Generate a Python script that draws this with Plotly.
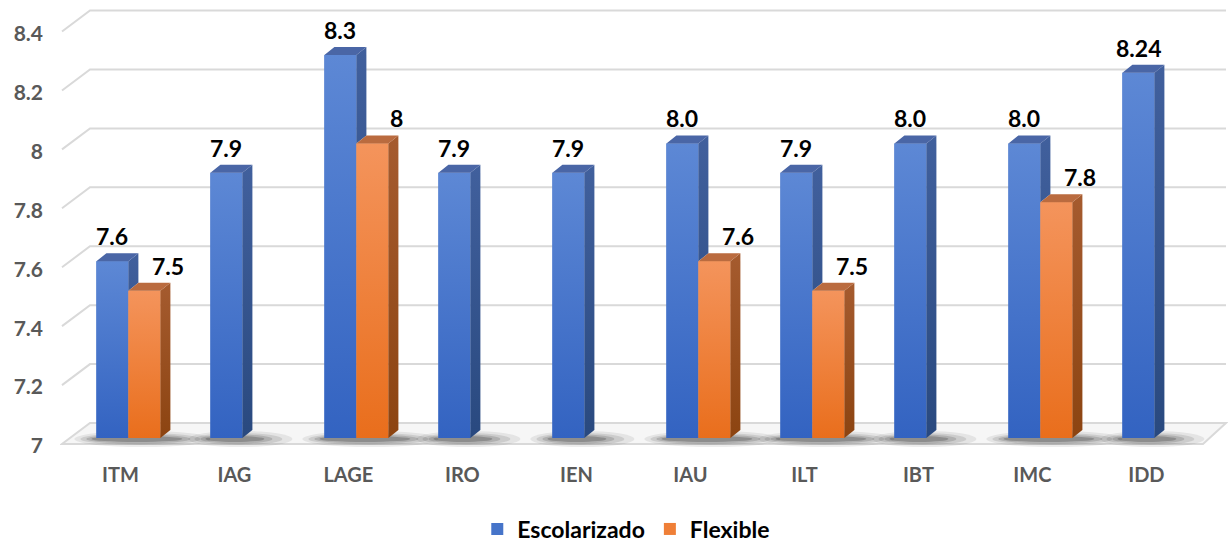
import plotly.graph_objects as go

# ---------------- data ----------------
categories = ["ITM", "IAG", "LAGE", "IRO", "IEN", "IAU", "ILT", "IBT", "IMC", "IDD"]
escolarizado = [7.6, 7.9, 8.3, 7.9, 7.9, 8.0, 7.9, 8.0, 8.0, 8.24]
flexible = [7.5, None, 8.0, None, None, 7.6, 7.5, None, 7.8, None]
escolarizado_labels = ["7.6", "7.9", "8.3", "7.9", "7.9", "8.0", "7.9", "8.0", "8.0", "8.24"]
flexible_labels = ["7.5", "", "8", "", "", "7.6", "7.5", "", "7.8", ""]
series_names = ["Escolarizado", "Flexible"]
y_tickvals = [7, 7.2, 7.4, 7.6, 7.8, 8, 8.2, 8.4]
y_ticktext = ["7", "7.2", "7.4", "7.6", "7.8", "8", "8.2", "8.4"]
BASE = 7

# ---------------- geometry (pixels -> data units) ----------------
W, H = 1228, 547
ML, MR, MT, MB = 60, 0, 3, 80
PX_CAT = 114.0
PX_UNIT = 294.6
BASE_PX = 438
x0 = -0.6
x1 = x0 + (W - ML - MR) / PX_CAT
y0 = BASE - (H - MB - BASE_PX) / PX_UNIT
y1 = y0 + (H - MB - MT) / PX_UNIT

BW = 32 / PX_CAT          # bar width (category units)
DX = 10 / PX_CAT          # bar depth x
DY = 8 / PX_UNIT          # bar depth y
FY = -6 / PX_UNIT         # front plane offset
BY = 15 / PX_UNIT         # back wall offset
WALL_FRONT_X = x0 + 2 / PX_CAT
WALL_BACK_X = WALL_FRONT_X + 28 / PX_CAT
WALL_RIGHT_X = x1 - 2 / PX_CAT
FLOOR_FRONT_RIGHT = (1203 - (ML + 0.6 * PX_CAT)) / PX_CAT

BLUE = "#4674C9"
BLUE_FRONT = ("#3363C1", "#5D88D5")      # bottom, top
BLUE_SIDE = ("#29497F", "#41609D")
BLUE_TOP = "#4A66A6"
ORANGE = "#EF7F37"
ORANGE_FRONT = ("#E96E1C", "#F4945C")
ORANGE_SIDE = ("#8C4411", "#A55B2F")
ORANGE_TOP = "#BA6B3F"
FONT = "Lato"

idx = list(range(len(categories)))
fig = go.Figure()

# front faces (real bars)
fig.add_trace(go.Bar(x=idx, y=[v - BASE for v in escolarizado], base=BASE,
                     name=series_names[0], marker=dict(color=BLUE, line=dict(width=0)),
                     hoverinfo="skip"))
fig.add_trace(go.Bar(x=idx, y=[(v - BASE) if v is not None else None for v in flexible], base=BASE,
                     name=series_names[1], marker=dict(color=ORANGE, line=dict(width=0)),
                     hoverinfo="skip"))


def grad_poly(xs, ys, cols, lo, hi):
    return go.Scatter(x=xs, y=ys, mode="lines", fill="toself",
                      fillgradient=dict(type="vertical", start=lo, stop=hi,
                                        colorscale=[[0, cols[0]], [1, cols[1]]]),
                      line=dict(width=0, color=cols[1]), showlegend=False, hoverinfo="skip")


def flat_poly(xs, ys, color):
    return go.Scatter(x=xs, y=ys, mode="lines", fill="toself", fillcolor=color,
                      line=dict(width=0, color=color), showlegend=False, hoverinfo="skip")


def box(xl, xr, yb, yt):
    return [xl, xr, xr, xl, xl], [yb, yb, yt, yt, yb]


# gradient shading over the front faces
for i, v in enumerate(escolarizado):
    bx, by = box(i - BW, i, BASE, v)
    fig.add_trace(grad_poly(bx, by, BLUE_FRONT, BASE, v))
for i, o in enumerate(flexible):
    if o is None:
        continue
    bx, by = box(i, i + BW, BASE, o)
    fig.add_trace(grad_poly(bx, by, ORANGE_FRONT, BASE, o))

# side faces
for i, v in enumerate(escolarizado):
    xr = i
    o = flexible[i]
    bottom = BASE if o is None else o
    if o is None or v > o:
        fig.add_trace(grad_poly([xr, xr, xr + DX, xr + DX, xr],
                                [bottom, v, v + DY, bottom + DY, bottom],
                                BLUE_SIDE, BASE, v + DY))
for i, o in enumerate(flexible):
    if o is None:
        continue
    xr = i + BW
    fig.add_trace(grad_poly([xr, xr, xr + DX, xr + DX, xr],
                            [BASE, o, o + DY, BASE + DY, BASE],
                            ORANGE_SIDE, BASE, o + DY))

# top faces
bt_x, bt_y, ot_x, ot_y = [], [], [], []
for i, v in enumerate(escolarizado):
    xl, xr = i - BW, i
    bt_x += [xl, xr, xr + DX, xl + DX, xl, None]
    bt_y += [v, v, v + DY, v + DY, v, None]
for i, o in enumerate(flexible):
    if o is None:
        continue
    xl, xr = i, i + BW
    ot_x += [xl, xr, xr + DX, xl + DX, xl, None]
    ot_y += [o, o, o + DY, o + DY, o, None]
fig.add_trace(flat_poly(bt_x, bt_y, BLUE_TOP))
fig.add_trace(flat_poly(ot_x, ot_y, ORANGE_TOP))

# ---------------- background shapes: floor, wall gridlines, shadows ----------------
shapes = []
fpath = (f"M{WALL_FRONT_X},{BASE + FY} L{FLOOR_FRONT_RIGHT},{BASE + FY} "
         f"L{WALL_RIGHT_X},{BASE + BY} L{WALL_BACK_X},{BASE + BY} Z")
shapes.append(dict(type="path", path=fpath, xref="x", yref="y", layer="below",
                   fillcolor="#F6F6F6", line=dict(color="#D9D9D9", width=2)))
for t in y_tickvals[1:]:
    p = f"M{WALL_FRONT_X},{t + FY} L{WALL_BACK_X},{t + BY} L{WALL_RIGHT_X},{t + BY}"
    shapes.append(dict(type="path", path=p, xref="x", yref="y", layer="below",
                       line=dict(color="#D9D9D9", width=2)))
# soft shadows (stacked translucent ellipses)
for i, v in enumerate(escolarizado):
    left = i - BW
    right = (i + BW if flexible[i] is not None else i) + DX
    for gl, gr, hh, a in [(22, 40, 16, 0.08), (16, 30, 12, 0.12), (10, 20, 9, 0.16), (5, 12, 6, 0.24)]:
        shapes.append(dict(type="circle", xref="x", yref="y", layer="below",
                           x0=left - gl / PX_CAT, x1=right + gr / PX_CAT,
                           y0=BASE - (hh / 2 + 1) / PX_UNIT, y1=BASE + (hh / 2 - 1) / PX_UNIT,
                           fillcolor=f"rgba(30,30,30,{a})", line=dict(width=0)))

# ---------------- data labels ----------------
annotations = []
lab_font = dict(family=FONT, size=23, color="black", weight="bold")
for i, (v, t) in enumerate(zip(escolarizado, escolarizado_labels)):
    annotations.append(dict(x=i - BW / 2, y=v, text=t, showarrow=False, xref="x", yref="y",
                            yanchor="middle", xanchor="center", yshift=25, font=lab_font))
for i, (o, t) in enumerate(zip(flexible, flexible_labels)):
    if o is None:
        continue
    annotations.append(dict(x=i + BW / 2, y=o, text=t, showarrow=False, xref="x", yref="y",
                            yanchor="middle", xanchor="center", yshift=25, xshift=24,
                            font=lab_font))

legend_y = -(529 - (H - MB)) / (H - MB - MT)

fig.update_layout(
    width=W, height=H,
    margin=dict(l=ML, r=MR, t=MT, b=MB, autoexpand=False),
    paper_bgcolor="white", plot_bgcolor="white",
    barmode="group", bargap=1 - 2 * BW, bargroupgap=0,
    shapes=shapes, annotations=annotations,
    showlegend=True,
    legend=dict(orientation="h", xref="container",
                x=0.51, xanchor="center", y=legend_y, yanchor="middle",
                itemwidth=30,
                font=dict(family=FONT, size=23, color="black", weight="bold"),
                traceorder="normal", itemclick=False),
    xaxis=dict(range=[x0, x1], tickvals=idx, ticktext=categories, showgrid=False,
               zeroline=False, showline=False, ticks="", ticklabelshift=-8,
               ticklabelstandoff=-6, automargin=False,
               tickfont=dict(family=FONT, size=20, color="#595959", weight="bold")),
    yaxis=dict(range=[y0, y1], tickvals=y_tickvals, ticktext=y_ticktext, showgrid=False,
               zeroline=False, showline=False, ticks="", ticklabelshift=8,
               ticklabelstandoff=16, automargin=False,
               tickfont=dict(family=FONT, size=21, color="#595959", weight="bold")),
)

fig.write_html("out.html", config={"displayModeBar": False},
               post_script="document.body.style.margin='0';")
